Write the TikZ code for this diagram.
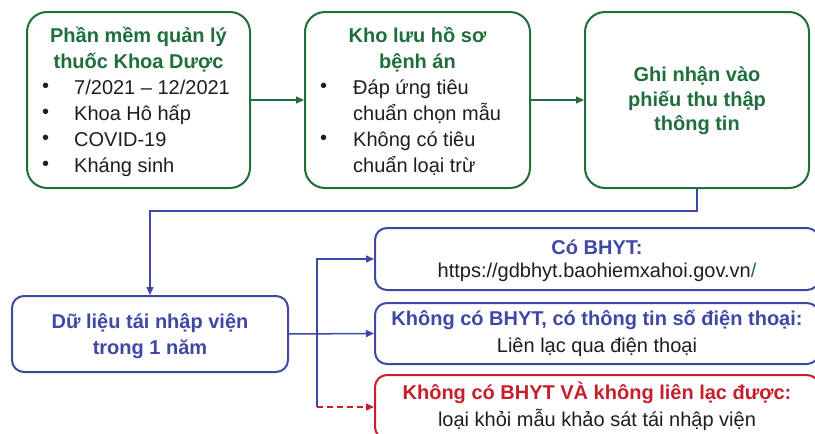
\documentclass[tikz,border=0pt]{standalone}
\usepackage{fontspec}
\setmainfont{Liberation Sans}
\usetikzlibrary{arrows.meta}
\definecolor{gr}{HTML}{1F6E3C}
\definecolor{bl}{HTML}{3F48A5}
\definecolor{rd}{HTML}{C41F2B}
\definecolor{tx}{HTML}{1E1E1E}
\begin{document}
\begin{tikzpicture}[x=1pt,y=-1pt,
  gbox/.style={draw=gr,line width=2pt,rounded corners=20pt,minimum height=176pt},
  bbox/.style={draw=bl,line width=2pt,rounded corners=12pt},
  rbox/.style={draw=rd,line width=2pt,rounded corners=12pt},
  gtitle/.style={text=gr,font=\fontsize{20}{26}\selectfont\bfseries,align=center,inner sep=0pt},
  btitle/.style={text=bl,font=\fontsize{20}{26}\selectfont\bfseries,align=center,inner sep=0pt},
  rtitle/.style={text=rd,font=\fontsize{20}{26}\selectfont\bfseries,align=center,inner sep=0pt},
  body/.style={text=tx,font=\fontsize{20}{26}\selectfont,align=left,inner sep=0pt},
  bodyc/.style={text=tx,font=\fontsize{20}{26}\selectfont,align=center,inner sep=0pt},
  garrow/.style={draw=gr,line width=1.5pt,-{Triangle[length=8pt,width=7pt]}},
  barrow/.style={draw=bl,line width=1.5pt,-{Triangle[length=8pt,width=7pt]}},
  bline/.style={draw=bl,line width=1.5pt},
  rarrow/.style={draw=rd,line width=1.5pt,dashed,dash pattern=on 6pt off 4pt,-{Triangle[length=8pt,width=7pt]}}
]
\useasboundingbox (0,0) rectangle (815,434);
\clip (0,0) rectangle (815,434);
\fill[white] (0,0) rectangle (815,434);

% top row boxes
\node[gbox,minimum width=223pt] (b1) at (138.5,100) {};
\node[gbox,minimum width=225pt] (b2) at (417.5,100) {};
\node[gbox,minimum width=224pt] (b3) at (697,100) {};

\node[gtitle] (t1) at (138.5,50) {Phần mềm quản lý\\thuốc Khoa Dược};
\node[body,anchor=north west] (u1) at (42,83) {•\\•\\•\\•};
\node[body,anchor=north west] (l1) at (74,80) {7/2021 – 12/2021\\Khoa Hô hấp\\COVID-19\\Kháng sinh};

\node[gtitle] (t2) at (417.5,50) {Kho lưu hồ sơ\\bệnh án};
\node[body,anchor=north west] (u2) at (320,83) {•\\\\•};
\node[body,anchor=north west] (l2) at (353,80) {Đáp ứng tiêu\\chuẩn chọn mẫu\\Không có tiêu\\chuẩn loại trừ};

\node[gtitle,font=\fontsize{20}{24.5}\selectfont\bfseries] (t3) at (697,101) {Ghi nhận vào\\phiếu thu thập\\thông tin};

% bottom left box
\node[bbox,minimum width=276pt,minimum height=76pt] (b4) at (150,334) {};
\node[btitle] (t4) at (150,336) {Dữ liệu tái nhập viện\\trong 1 năm};

% right boxes
\node[bbox,minimum width=444pt,minimum height=62pt] (b5) at (597,259) {};
\node[btitle] (t5) at (597,247) {Có BHYT:};
\node[bodyc] (l5) at (597,272) {https://gdbhyt.baohiemxahoi.gov.vn\textcolor{gr}{/}};

\node[bbox,minimum width=444pt,minimum height=61pt] (b6) at (597,333.5) {};
\node[btitle] (t6) at (597,320) {Không có BHYT, có thông tin số điện thoại:};
\node[bodyc] (l6) at (597,347) {Liên lạc qua điện thoại};

\node[rbox,minimum width=444pt,minimum height=64pt] (b7) at (597,407) {};
\node[rtitle] (t7) at (597,393) {Không có BHYT VÀ không liên lạc được:};
\node[bodyc] (l7) at (597,420) {loại khỏi mẫu khảo sát tái nhập viện};

% connectors
\draw[garrow] (b1.east) -- (b2.west);
\draw[garrow] (b2.east) -- (b3.west);
\draw[barrow] (b3.south) -- ++(0,22) -| (b4.north);
\draw[barrow] (b4.east) -- (b6.west);
\coordinate (j) at (317,334);
\coordinate (jr) at (317,407);
\draw[barrow] (j) |- (b5.west);
\draw[bline] (j) -- (jr);
\draw[rarrow] (jr) -- (b7.west);
\end{tikzpicture}
\end{document}
